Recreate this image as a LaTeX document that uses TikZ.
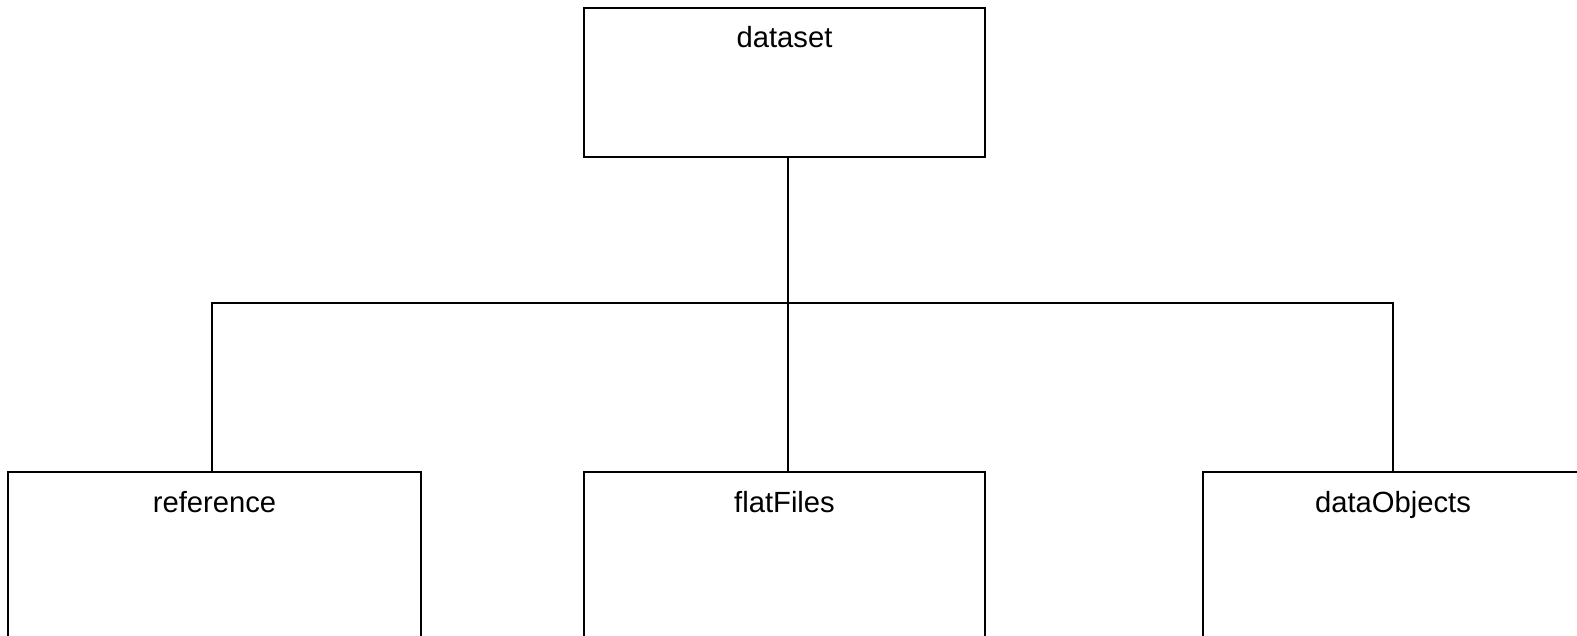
\documentclass[tikz,border=0pt]{standalone}
\usepackage{fontspec}
\setmainfont{Liberation Sans}
\usetikzlibrary{positioning}

\begin{document}
\begin{tikzpicture}[x=0.5pt,y=-0.5pt,line width=1pt,
  box/.style={draw,rectangle,anchor=north,inner sep=0pt,font=\fontsize{14.6}{17}\selectfont,
    text height=20pt,text depth=54.5pt,minimum width=200.5pt},
  lowbox/.style={box,text depth=80pt}]
\useasboundingbox (0,0) rectangle (1577,636);
\node[box] (dataset) at (784.5,7) {dataset};
\node[lowbox,minimum width=206.5pt] (reference) at (214.5,471) {reference};
\node[lowbox] (flatFiles) at (784.5,471) {flatFiles};
\node[lowbox,minimum width=190pt] (dataObjects) at (1393,471) {dataObjects};
\coordinate (bus) at (788,303);
\draw ([xshift=1.75pt]dataset.south) -- ([xshift=1.75pt]flatFiles.north);
\draw ([xshift=-1.25pt]reference.north) |- (bus) -| (dataObjects.north);
\end{tikzpicture}
\end{document}
